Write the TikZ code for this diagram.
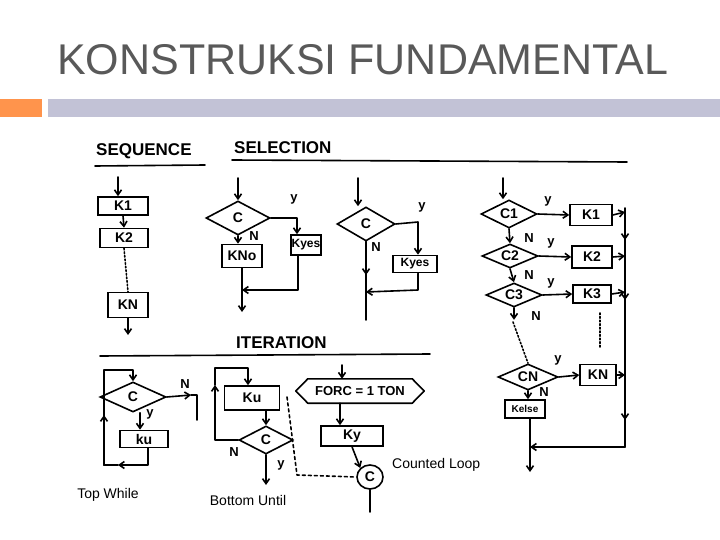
\documentclass[tikz,border=0pt]{standalone}
\usepackage{fontspec}
\setmainfont{Liberation Sans}
\usetikzlibrary{shapes.geometric,shapes.misc,arrows.meta}
\begin{document}
\begin{tikzpicture}[x=1pt,y=-1pt,
  ln/.style={line width=1.6pt,line cap=round,line join=round},
  ar/.style={ln,-{Straight Barb[length=5pt,width=7pt]}},
  box/.style={draw,line width=1.6pt,inner sep=0pt,font=\bfseries\fontsize{14}{14}\selectfont},
  dia/.style={draw,line width=1.6pt,diamond,aspect=2,inner sep=0pt,font=\bfseries\fontsize{14}{14}\selectfont},
  lb/.style={font=\bfseries\fontsize{13}{13}\selectfont,inner sep=1pt},
  hd/.style={font=\bfseries\fontsize{17}{17}\selectfont,anchor=west,inner sep=0pt},
  capt/.style={font=\fontsize{14}{15}\selectfont,inner sep=0pt}]
\useasboundingbox (0,0) rectangle (720,540);
\fill[white] (0,0) rectangle (720,540);
\node[anchor=west,text=black!65,font=\fontsize{43}{45}\selectfont,inner sep=0pt] (title) at (57,60) {KONSTRUKSI FUNDAMENTAL};
\fill[orange!80!red!70] (0,99) rectangle (42,117);
\fill[blue!20!gray!40] (48,99) rectangle (720,117);
% headers
\node[hd] (hseq) at (96,151) {SEQUENCE};
\draw[ln] (95,166) -- (205,165);
\node[hd] (hsel) at (234,148) {SELECTION};
\draw[ln] (232,160) -- (627,162);
\node[hd] (hit) at (236,343) {ITERATION};
\draw[ln] (100,356) -- (430,354);
% sequence
\coordinate (s0) at (118,177);
\node[box,minimum width=50,minimum height=18] (k1) at (123,206) {K1};
\node[box,minimum width=48,minimum height=19] (k2) at (124,238) {K2};
\node[box,minimum width=40,minimum height=25] (kn) at (128,305) {KN};
\coordinate (s1) at (128,335);
\draw[ar] (s0) -- (k1.north -| s0);
\draw[ar] (k1.south) -- (k2.north);
\draw[ln,dotted] (k2.south) -- (kn.north);
\draw[ar] (kn.south) -- (s1);
% selection 1
\node[dia,minimum width=64,minimum height=34] (c1) at (238,218) {C};
\node[box,minimum width=40,minimum height=23] (kno) at (242,256) {KNo};
\node[box,minimum width=30,minimum height=20,font=\bfseries\fontsize{12}{12}\selectfont] (kyes1) at (306,245) {Kyes};
\coordinate (a0) at (238,178);
\coordinate (a1) at (242,312);
\coordinate (a2) at (242,290);
\draw[ar] (a0) -- (c1.north);
\draw[ar] (c1.east) -- (297,218) -- (kyes1.north -| 297,0);
\draw[ar] (c1.south) -- (kno.north -| c1.south);
\draw[ar] (kyes1.south -| 298,0) -- (298,290) -- (a2);
\draw[ar] (kno.south) -- (a1);
\node[lb] at (294,199) {y};
\node[lb] at (254,236) {N};
% selection 2
\node[dia,minimum width=58,minimum height=34] (c2) at (366,224) {C};
\node[box,minimum width=44,minimum height=17,font=\bfseries\fontsize{12}{12}\selectfont] (kyes2) at (415,264) {Kyes};
\coordinate (b0) at (358,178);
\coordinate (b1) at (366,320);
\coordinate (b2) at (366,292);
\draw[ar] (b0) -- (c2.north -| b0);
\draw[ar] (c2.east) -- (418,222) -- (kyes2.north -| 418,0);
\draw[ar] (kyes2.south -| 418,0) -- (418,290) -- (b2);
\draw[ln] (c2.south) -- (b1);
\draw[ar] (c2.south) -- (366,275);
\node[lb] at (422,207) {y};
\node[lb] at (376,247) {N};
% selection 3
\node[dia,minimum width=56,minimum height=28] (d1) at (509,214) {C1};
\node[dia,minimum width=56,minimum height=24] (d2) at (510,256) {C2};
\node[dia,minimum width=56,minimum height=24] (d3) at (514,295) {C3};
\node[dia,minimum width=60,minimum height=26] (dn) at (528,377) {CN};
\node[box,minimum width=42,minimum height=21] (q1) at (591,215) {K1};
\node[box,minimum width=40,minimum height=22] (q2) at (592,257) {K2};
\node[box,minimum width=38,minimum height=18] (q3) at (592,294) {K3};
\node[box,minimum width=36,minimum height=21] (qn) at (598,375) {KN};
\node[box,minimum width=40,minimum height=18,font=\bfseries\fontsize{10}{10}\selectfont] (ke) at (525,409) {Kelse};
\coordinate (c0) at (503,178);
\coordinate (rt) at (625,208);
\coordinate (rb) at (625,447);
\coordinate (ce) at (530,472);
\coordinate (cj) at (530,447);
\draw[ar] (c0) -- (d1.north -| c0);
\draw[ar] (d1.east) -- (q1.west);
\draw[ar] (d2.east) -- (q2.west);
\draw[ar] (d3.east) -- (q3.west);
\draw[ar] (dn.east) -- (qn.west);
\draw[ar] (d1.south) -- (d2.north);
\draw[ar] (d2.south) -- (d3.north);
\draw[ar] (d3.south) -- ++(0,12);
\draw[ln,dotted] (513,322) -- (dn.north);
\draw[ln,dotted] (600,313) -- (600,348);
\draw[ar] (dn.south) -- (ke.north -| dn.south);
\draw[ln] (rt) -- (rb);
\foreach \y in {240,300,420} \draw[ar] (625,\y-20) -- (625,\y);
\draw[ar] (q1.east) -- (625,212);
\draw[ar] (q2.east) -- (625,256);
\draw[ar] (q3.east) -- (625,292);
\draw[ar] (qn.east) -- (625,375);
\draw[ar] (rb) -- (cj);
\draw[ar] (ke.south -| cj) -- (ce);
\node[lb] at (548,201) {y};
\node[lb] at (529,238) {N};
\node[lb] at (551,243) {y};
\node[lb] at (529,275) {N};
\node[lb] at (551,283) {y};
\node[lb] at (536,316) {N};
\node[lb] at (558,360) {y};
\node[lb] at (544,392) {N};
% top while
\node[dia,minimum width=66,minimum height=30] (tw) at (133,397) {C};
\node[box,minimum width=48,minimum height=17] (tku) at (144,439) {ku};
\coordinate (tl1) at (104,465);
\coordinate (tl2) at (104,370);
\coordinate (tn) at (197,420);
\draw[ln] (tl1) -- (tl2);
\draw[ar] (tl1) -- (104,415);
\draw[ar] (tl2) -- (133,370) -- (tw.north);
\draw[ar] (tw.east) -- (191,395);
\draw[ln] (191,395) -- (197,395) -- (tn);
\draw[ar] (tw.south -| 140,0) -- (tku.north -| 140,0);
\draw[ar] (tku.south -| 148,0) -- (148,465) -- (118,465);
\draw[ln] (118,465) -- (tl1);
\node[lb] at (185,384) {N};
\node[lb] at (150,414) {y};
\node[capt] (ctw) at (108,495) {Top While};
% bottom until
\node[box,minimum width=55,minimum height=24] (bku) at (252,398) {Ku};
\node[dia,minimum width=54,minimum height=28] (bc) at (266,440) {C};
\coordinate (bt) at (215,368);
\coordinate (be) at (266,485);
\draw[ar] (bc.west) -- (215,440) -- (215,385);
\draw[ln] (215,385) -- (bt);
\draw[ar] (bt) -- (248,368) -- (bku.north -| 248,0);
\draw[ar] (bku.south -| 266,0) -- (bc.north);
\draw[ar] (bc.south) -- (be);
\node[lb] at (234,452) {N};
\node[lb] at (281,465) {y};
\node[capt] (cbu) at (248,500) {Bottom Until};
% counted loop
\node[inner sep=0pt,minimum width=128,minimum height=24,font=\bfseries\fontsize{13}{13}\selectfont] (fr) at (360,391) {FORC = 1 TON};
\draw[ln] (fr.west) -- ([xshift=12pt]fr.north west) -- ([xshift=-12pt]fr.north east) -- (fr.east) -- ([xshift=-12pt]fr.south east) -- ([xshift=12pt]fr.south west) -- cycle;
\node[box,minimum width=62,minimum height=20] (ky) at (352,436) {Ky};
\node[draw,line width=1.6pt,ellipse,minimum width=26,minimum height=24,inner sep=0pt,font=\bfseries\fontsize{14}{14}\selectfont] (cc) at (370,477) {C};
\coordinate (k0) at (342,365);
\coordinate (k1) at (370,512);
\coordinate (kd) at (287,397);
\draw[ar] (k0) -- (fr.north -| k0);
\draw[ar] (fr.south -| 340,0) -- (ky.north -| 340,0);
\draw[ar] (ky.south -| 352,0) -- (cc.north west);
\draw[ln] (cc.south) -- (k1);
\draw[ln,dashed] (kd) -- (297,475) -- (cc.west);
\node[capt,anchor=west] (ccl) at (392,465) {Counted Loop};
\end{tikzpicture}
\end{document}
